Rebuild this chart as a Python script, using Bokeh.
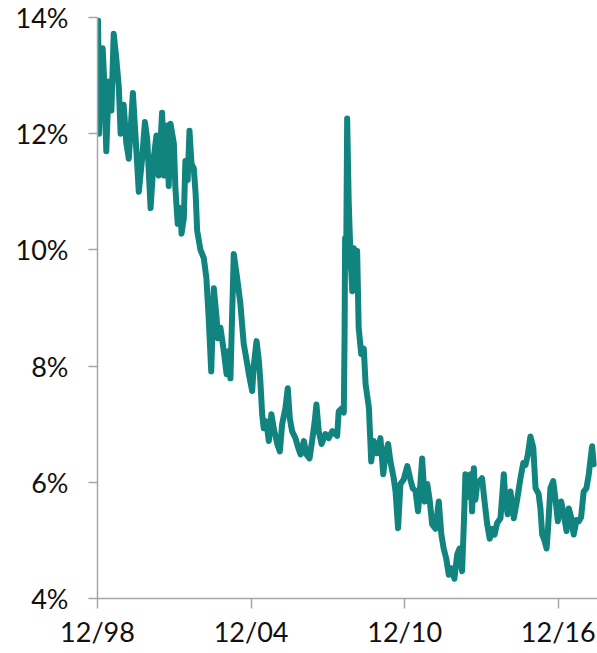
from bokeh.plotting import figure
from bokeh.models import FixedTicker, Range1d
from bokeh.embed import file_html
from bokeh.resources import INLINE

# decimal years (date of each reading)
years = [
    1998.94, 1998.98, 1999.03, 1999.12, 1999.19, 1999.26, 1999.36, 1999.46, 1999.55, 1999.65,
    1999.75, 1999.82, 1999.94, 2000.04, 2000.14, 2000.30, 2000.40, 2000.53, 2000.66, 2000.77,
    2000.86, 2000.99, 2001.12, 2001.22, 2001.31, 2001.44, 2001.53, 2001.64, 2001.70, 2001.77,
    2001.90, 2001.96, 2002.05, 2002.16, 2002.20, 2002.29, 2002.35, 2002.44, 2002.51, 2002.59,
    2002.68, 2002.75, 2002.81, 2002.94, 2003.07, 2003.17, 2003.26, 2003.36, 2003.46, 2003.57,
    2003.62, 2003.72, 2003.85, 2003.96, 2004.05, 2004.11, 2004.24, 2004.37, 2004.50, 2004.63,
    2004.77, 2004.83, 2004.96, 2005.02, 2005.13, 2005.22, 2005.28, 2005.35, 2005.41, 2005.51,
    2005.61, 2005.71, 2005.80, 2005.94, 2006.04, 2006.13, 2006.26, 2006.35, 2006.43, 2006.52,
    2006.65, 2006.76, 2006.85, 2006.98, 2007.08, 2007.20, 2007.30, 2007.39, 2007.47, 2007.56,
    2007.67, 2007.82, 2007.95, 2008.09, 2008.28, 2008.34, 2008.48, 2008.54, 2008.57, 2008.59,
    2008.63, 2008.67, 2008.73, 2008.80, 2008.87, 2008.93, 2009.00, 2009.06, 2009.12, 2009.22,
    2009.32, 2009.39, 2009.52, 2009.61, 2009.71, 2009.84, 2009.97, 2010.08, 2010.17, 2010.27,
    2010.36, 2010.49, 2010.56, 2010.66, 2010.75, 2010.88, 2011.02, 2011.14, 2011.23, 2011.34,
    2011.44, 2011.53, 2011.60, 2011.70, 2011.80, 2011.90, 2011.99, 2012.12, 2012.25, 2012.35,
    2012.44, 2012.54, 2012.64, 2012.75, 2012.86, 2012.97, 2013.06, 2013.16, 2013.23, 2013.29,
    2013.40, 2013.49, 2013.55, 2013.62, 2013.68, 2013.75, 2013.94, 2014.03, 2014.14, 2014.24,
    2014.34, 2014.43, 2014.53, 2014.66, 2014.79, 2014.85, 2014.94, 2015.05, 2015.18, 2015.31,
    2015.44, 2015.55, 2015.64, 2015.73, 2015.83, 2015.94, 2016.03, 2016.15, 2016.22, 2016.29,
    2016.38, 2016.46, 2016.51, 2016.61, 2016.72, 2016.81, 2016.90, 2017.03, 2017.13, 2017.24,
    2017.33, 2017.42, 2017.52, 2017.63, 2017.72, 2017.81, 2017.91, 2018.02, 2018.11, 2018.18,
    2018.24, 2018.30,
]

# rate, percent
rates = [
    13.95, 12.0, 13.0, 13.47, 12.8, 11.7, 12.9, 12.4, 13.72, 13.3,
    12.8, 12.0, 12.5, 11.85, 11.57, 12.7, 11.97, 11.0, 11.57, 12.2,
    11.9, 10.72, 11.6, 11.97, 11.28, 12.36, 11.28, 12.14, 11.1, 12.17,
    11.83, 11.07, 10.45, 10.72, 10.28, 10.55, 11.53, 11.2, 12.05, 11.48,
    11.4, 10.97, 10.33, 10.0, 9.86, 9.52, 8.83, 7.91, 9.34, 8.83,
    8.48, 8.66, 8.26, 7.86, 8.26, 7.79, 9.93, 9.52, 9.07, 8.38,
    8.03, 7.86, 7.57, 8.0, 8.43, 8.1, 7.74, 7.17, 6.93, 7.05,
    6.71, 7.17, 6.93, 6.66, 6.53, 7.0, 7.28, 7.62, 7.1, 6.88,
    6.76, 6.59, 6.48, 6.71, 6.48, 6.41, 6.71, 7.0, 7.34, 6.88,
    6.66, 6.83, 6.76, 6.88, 6.8, 7.22, 7.28, 7.2, 8.55, 10.2,
    9.7, 12.26, 10.84, 9.9, 9.29, 10.03, 9.6, 9.98, 8.66, 8.21,
    8.3, 7.69, 7.28, 6.36, 6.71, 6.5, 6.76, 6.14, 6.5, 6.66,
    6.36, 6.07, 5.84, 5.21, 5.97, 6.05, 6.28, 6.05, 5.9, 5.85,
    5.5, 5.97, 6.41, 5.67, 5.97, 5.67, 5.28, 5.2, 5.67, 5.1,
    4.86, 4.69, 4.41, 4.52, 4.34, 4.76, 4.86, 4.47, 5.3, 6.14,
    5.75, 6.14, 5.5, 6.24, 5.7, 5.97, 6.07, 5.7, 5.28, 5.03,
    5.2, 5.1, 5.3, 5.38, 6.14, 5.7, 5.45, 5.84, 5.38, 5.7,
    6.07, 6.33, 6.3, 6.48, 6.79, 6.6, 5.9, 5.8, 5.55, 5.1,
    5.0, 4.86, 5.15, 5.9, 6.02, 5.7, 5.33, 5.67, 5.45, 5.16,
    5.55, 5.4, 5.1, 5.35, 5.33, 5.4, 5.84, 5.9, 6.14, 6.41,
    6.62, 6.31,
]

x_tick_years = [1998.917, 2004.917, 2010.917, 2016.917]
x_tick_labels = ["12/98", "12/04", "12/10", "12/16"]
y_tick_values = [4, 6, 8, 10, 12, 14]
y_tick_labels = ["4%", "6%", "8%", "10%", "12%", "14%"]

p = figure(width=597, height=653, output_backend="svg", toolbar_location=None,
           x_range=Range1d(1998.917, 2018.45), y_range=Range1d(4, 14),
           min_border_left=97, min_border_top=17, min_border_bottom=55, min_border_right=0)
p.outline_line_color = None
p.grid.visible = False
p.background_fill_color = "white"
p.border_fill_color = "white"

p.line(x=years, y=rates, line_width=6, line_color="#12847f",
       line_join="round", line_cap="round")

axis_col = "#a6a6a6"
for ax in (p.xaxis[0], p.yaxis[0]):
    ax.axis_line_color = axis_col
    ax.axis_line_width = 1.5
    ax.major_tick_line_color = axis_col
    ax.major_tick_line_width = 1.5
    ax.minor_tick_line_color = None
    ax.major_tick_in = 0
    ax.major_label_text_font = "Lato"
    ax.major_label_text_font_size = "27px"
    ax.major_label_text_color = "#111111"

p.xaxis.ticker = FixedTicker(ticks=x_tick_years)
p.xaxis.major_label_overrides = dict(zip(x_tick_years, x_tick_labels))
p.xaxis.major_tick_out = 10
p.xaxis.major_label_standoff = 6

p.yaxis.ticker = FixedTicker(ticks=y_tick_values)
p.yaxis.major_label_overrides = dict(zip(y_tick_values, y_tick_labels))
p.yaxis.major_tick_out = 9
p.yaxis.major_label_standoff = 20

open("out.html", "w").write(file_html(p, INLINE))
